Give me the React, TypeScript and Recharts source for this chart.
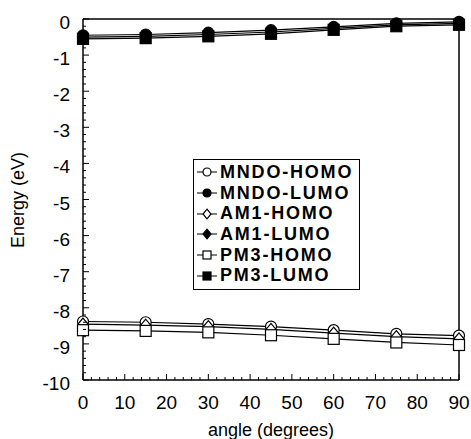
import React from 'react';
import { LineChart, Line, XAxis, YAxis, ReferenceLine, Legend } from 'recharts';

const angles = [0, 15, 30, 45, 60, 75, 90];
const mndoHomo = [-8.38, -8.4, -8.45, -8.52, -8.62, -8.72, -8.77];
const mndoLumo = [-0.45, -0.43, -0.38, -0.31, -0.22, -0.12, -0.08];
const am1Homo = [-8.45, -8.48, -8.52, -8.6, -8.7, -8.8, -8.86];
const am1Lumo = [-0.5, -0.48, -0.43, -0.36, -0.26, -0.16, -0.12];
const pm3Homo = [-8.62, -8.64, -8.68, -8.76, -8.86, -8.96, -9.03];
const pm3Lumo = [-0.55, -0.53, -0.48, -0.41, -0.3, -0.2, -0.16];

const xMajor = [0, 10, 20, 30, 40, 50, 60, 70, 80, 90];
const yMajor = [0, -1, -2, -3, -4, -5, -6, -7, -8, -9, -10];

const xTicks: number[] = [];
for (let i = 0; i <= 45; i++) xTicks.push(i * 2);
const yTicks: number[] = [];
for (let i = 0; i <= 50; i++) yTicks.push(Math.round(-i * 2) / 10);

const data = angles.map((a, i) => ({
  angle: a,
  mndoHomo: mndoHomo[i],
  mndoLumo: mndoLumo[i],
  am1Homo: am1Homo[i],
  am1Lumo: am1Lumo[i],
  pm3Homo: pm3Homo[i],
  pm3Lumo: pm3Lumo[i],
}));

const FONT = 'Liberation Sans, Arial, Helvetica, sans-serif';

type Shape = 'circle' | 'diamond' | 'square';

const MarkerShape = ({ cx, cy, shape, filled, size }: { cx: number; cy: number; shape: Shape; filled: boolean; size: number }) => {
  const fill = filled ? '#000' : '#fff';
  if (shape === 'circle') return <circle cx={cx} cy={cy} r={size} fill={fill} stroke="#000" strokeWidth={1.2} />;
  if (shape === 'square')
    return <rect x={cx - size} y={cy - size} width={size * 2} height={size * 2} fill={fill} stroke="#000" strokeWidth={1.2} />;
  return (
    <polygon
      points={`${cx},${cy - size * 1.2} ${cx + size},${cy} ${cx},${cy + size * 1.2} ${cx - size},${cy}`}
      fill={fill}
      stroke="#000"
      strokeWidth={1.2}
    />
  );
};

const makeDot = (shape: Shape, filled: boolean, size: number) => (props: any) => {
  const { cx, cy, index } = props;
  if (cx == null || cy == null) return <g key={index} />;
  return (
    <g key={index}>
      <MarkerShape cx={cx} cy={cy} shape={shape} filled={filled} size={size} />
    </g>
  );
};

const series = [
  { key: 'mndoHomo', name: 'MNDO-HOMO', shape: 'circle' as Shape, filled: false, size: 5.5 },
  { key: 'mndoLumo', name: 'MNDO-LUMO', shape: 'circle' as Shape, filled: true, size: 5.5 },
  { key: 'am1Homo', name: 'AM1-HOMO', shape: 'diamond' as Shape, filled: false, size: 5 },
  { key: 'am1Lumo', name: 'AM1-LUMO', shape: 'diamond' as Shape, filled: true, size: 5 },
  { key: 'pm3Homo', name: 'PM3-HOMO', shape: 'square' as Shape, filled: false, size: 5.5 },
  { key: 'pm3Lumo', name: 'PM3-LUMO', shape: 'square' as Shape, filled: true, size: 5.5 },
];

const XTick = (props: any) => {
  const { x, y, payload } = props;
  const v = payload.value;
  const major = xMajor.includes(v);
  return (
    <g>
      <line x1={x} y1={y} x2={x} y2={y - (major ? 6 : 3)} stroke="#000" strokeWidth={1} />
      {major && (
        <text x={x} y={y + 29} textAnchor="middle" fontSize={19} fontFamily={FONT} fill="#000">
          {v}
        </text>
      )}
    </g>
  );
};

const YTick = (props: any) => {
  const { x, y, payload } = props;
  const v = payload.value;
  const major = yMajor.some((m) => Math.abs(m - v) < 1e-6);
  return (
    <g>
      <line x1={x} y1={y} x2={x + (major ? 6 : 3)} y2={y} stroke="#000" strokeWidth={1} />
      {major && (
        <text x={x - 13} y={y + 10} textAnchor="end" fontSize={19} fontFamily={FONT} fill="#000">
          {Math.round(v)}
        </text>
      )}
    </g>
  );
};

const LegendContent = () => (
  <div
    style={{
      border: '1.5px solid #000',
      background: '#fff',
      padding: '2px 6px 3px 3px',
      fontFamily: FONT,
      fontSize: 18,
      fontWeight: 'bold',
      letterSpacing: 1.8,
      lineHeight: '20.7px',
      color: '#000',
      display: 'inline-block',
    }}
  >
    {series.map((s) => (
      <div key={s.key} style={{ display: 'flex', alignItems: 'center', whiteSpace: 'nowrap', height: 20.7 }}>
        <svg width={20} height={14} style={{ marginRight: 3 }}>
          <line x1={0} y1={7} x2={20} y2={7} stroke="#000" strokeWidth={1} />
          <MarkerShape cx={10} cy={7} shape={s.shape} filled={s.filled} size={4} />
        </svg>
        <span>{s.name}</span>
      </div>
    ))}
  </div>
);

export default function App() {
  return (
    <div style={{ position: 'absolute', left: 0, top: 0, width: 471, height: 439, background: '#fff' }}>
      <LineChart width={471} height={439} data={data} margin={{ top: 19, right: 12, bottom: 0, left: 0 }}>
        <XAxis
          dataKey="angle"
          type="number"
          domain={[0, 90]}
          ticks={xTicks}
          interval={0}
          tick={<XTick />}
          tickLine={false}
          tickSize={0}
          tickMargin={0}
          axisLine={{ stroke: '#000', strokeWidth: 1.5 }}
          height={59}
        />
        <YAxis
          type="number"
          domain={[-10, 0]}
          ticks={yTicks}
          interval={0}
          tick={<YTick />}
          tickLine={false}
          tickSize={0}
          tickMargin={0}
          axisLine={{ stroke: '#000', strokeWidth: 1.5 }}
          width={83}
        />
        <ReferenceLine y={0} stroke="#000" strokeWidth={1.5} />
        <ReferenceLine x={90} stroke="#000" strokeWidth={1.5} />
        {series.map((s) => (
          <Line
            key={s.key}
            dataKey={s.key}
            name={s.name}
            stroke="#000"
            strokeWidth={1.2}
            dot={makeDot(s.shape, s.filled, s.size)}
            isAnimationActive={false}
          />
        ))}
        <Legend
          layout="vertical"
          verticalAlign="middle"
          align="center"
          content={<LegendContent />}
          wrapperStyle={{ left: 193, top: 159, width: 'auto', height: 'auto' }}
        />
        <text x={271} y={436} textAnchor="middle" fontSize={18} fontFamily={FONT} fill="#000">
          angle (degrees)
        </text>
        <text
          x={24}
          y={200}
          textAnchor="middle"
          fontSize={18}
          fontFamily={FONT}
          fill="#000"
          transform="rotate(-90 24 200)"
        >
          Energy (eV)
        </text>
      </LineChart>
    </div>
  );
}
